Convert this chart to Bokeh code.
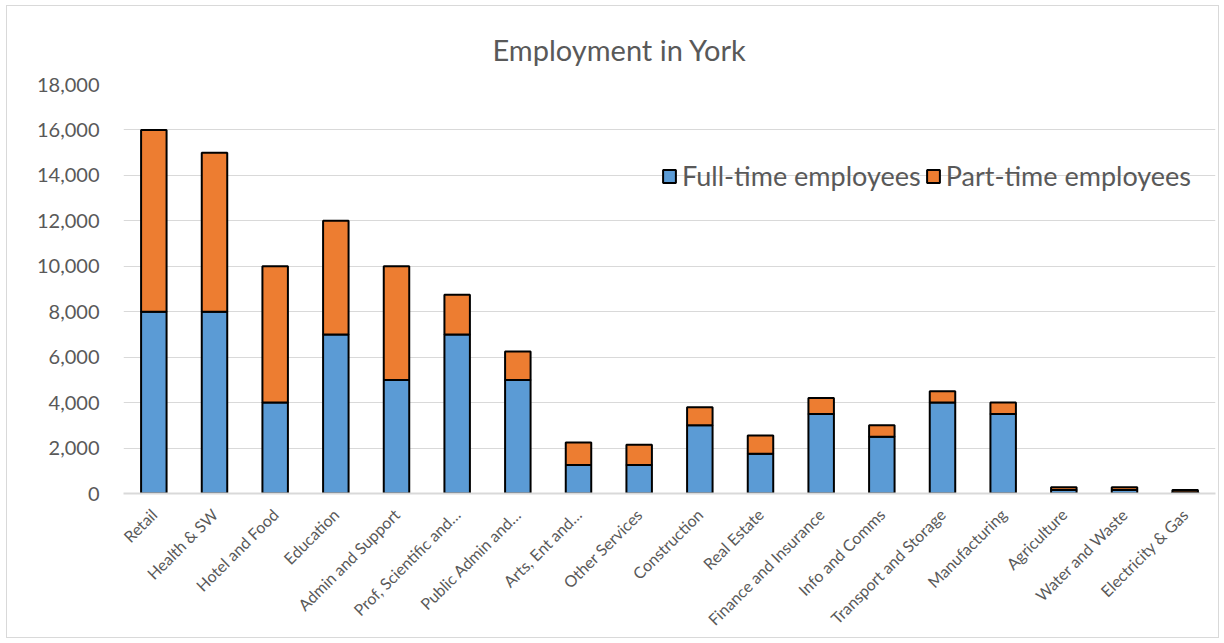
import math
from bokeh.plotting import figure
from bokeh.models import (ColumnDataSource, NumeralTickFormatter, Legend,
                          LegendItem, SingleIntervalTicker, Title)
from bokeh.embed import file_html
from bokeh.resources import INLINE

categories = ["Retail", "Health & SW", "Hotel and Food", "Education", "Admin and Support",
              "Prof, Scientific and\u2026", "Public Admin and\u2026", "Arts, Ent and\u2026",
              "Other Services", "Construction", "Real Estate", "Finance and Insurance",
              "Info and Comms", "Transport and Storage", "Manufacturing", "Agriculture",
              "Water and Waste", "Electricity & Gas"]
full_time = [8000, 8000, 4000, 7000, 5000, 7000, 5000, 1250, 1250, 3000, 1750, 3500,
             2500, 4000, 3500, 150, 150, 50]
part_time = [8000, 7000, 6000, 5000, 5000, 1750, 1250, 1000, 900, 800, 800, 700,
             500, 500, 500, 125, 125, 100]
series_names = ["Full-time employees", "Part-time employees"]
series_colors = ["#5B9BD5", "#ED7D31"]
title_text = "Employment in York"

FONT = "Lato"
TXT = "#595959"

source = ColumnDataSource(dict(category=categories, full=full_time, part=part_time))

p = figure(x_range=categories, y_range=(0, 18000), width=1211, height=631,
           output_backend="svg", toolbar_location=None,
           min_border_left=116, min_border_right=5, min_border_top=78, min_border_bottom=146,
           styles={"border": "1px solid #d9d9d9", "box-sizing": "content-box"},
           margin=(5, 0, 0, 6))
p.background_fill_color = "white"
p.border_fill_color = "white"
p.outline_line_color = None

p.title = Title(text=title_text, align="left", offset=369, standoff=35,
                text_font=FONT, text_font_size="29px", text_color=TXT,
                text_font_style="normal")

rs = p.vbar_stack(["full", "part"], x="category", width=0.42, source=source,
                  fill_color=series_colors, line_color="black", line_width=2)

# axes
p.yaxis.ticker = SingleIntervalTicker(interval=2000)
p.ygrid.ticker = SingleIntervalTicker(interval=2000)
p.yaxis.formatter = NumeralTickFormatter(format="0,0")
p.yaxis.axis_line_color = None
p.yaxis.major_tick_line_color = None
p.yaxis.minor_tick_line_color = None
p.yaxis.major_label_text_font = FONT
p.yaxis.major_label_text_font_size = "20px"
p.yaxis.major_label_text_color = TXT
p.yaxis.major_label_standoff = 18

p.xaxis.major_label_orientation = math.pi / 4
p.xaxis.axis_line_color = "#d9d9d9"
p.xaxis.axis_line_width = 2
p.xaxis.major_tick_line_color = None
p.xaxis.minor_tick_line_color = None
p.xaxis.major_label_text_font = FONT
p.xaxis.major_label_text_font_size = "16px"
p.xaxis.major_label_text_color = TXT
p.xaxis.major_label_standoff = 12

p.xgrid.grid_line_color = None
p.ygrid.grid_line_color = "#d9d9d9"
p.ygrid.grid_line_width = 1

legend = Legend(items=[LegendItem(label=series_names[0], renderers=[rs[0]]),
                       LegendItem(label=series_names[1], renderers=[rs[1]])],
                orientation="horizontal", location=(538, 301),
                label_text_font=FONT, label_text_font_size="27px", label_text_color=TXT,
                glyph_width=16, glyph_height=16, label_standoff=5, spacing=4,
                padding=0, margin=0, border_line_color=None, background_fill_alpha=0)
p.add_layout(legend)

open("out.html", "w").write(file_html(p, INLINE))
